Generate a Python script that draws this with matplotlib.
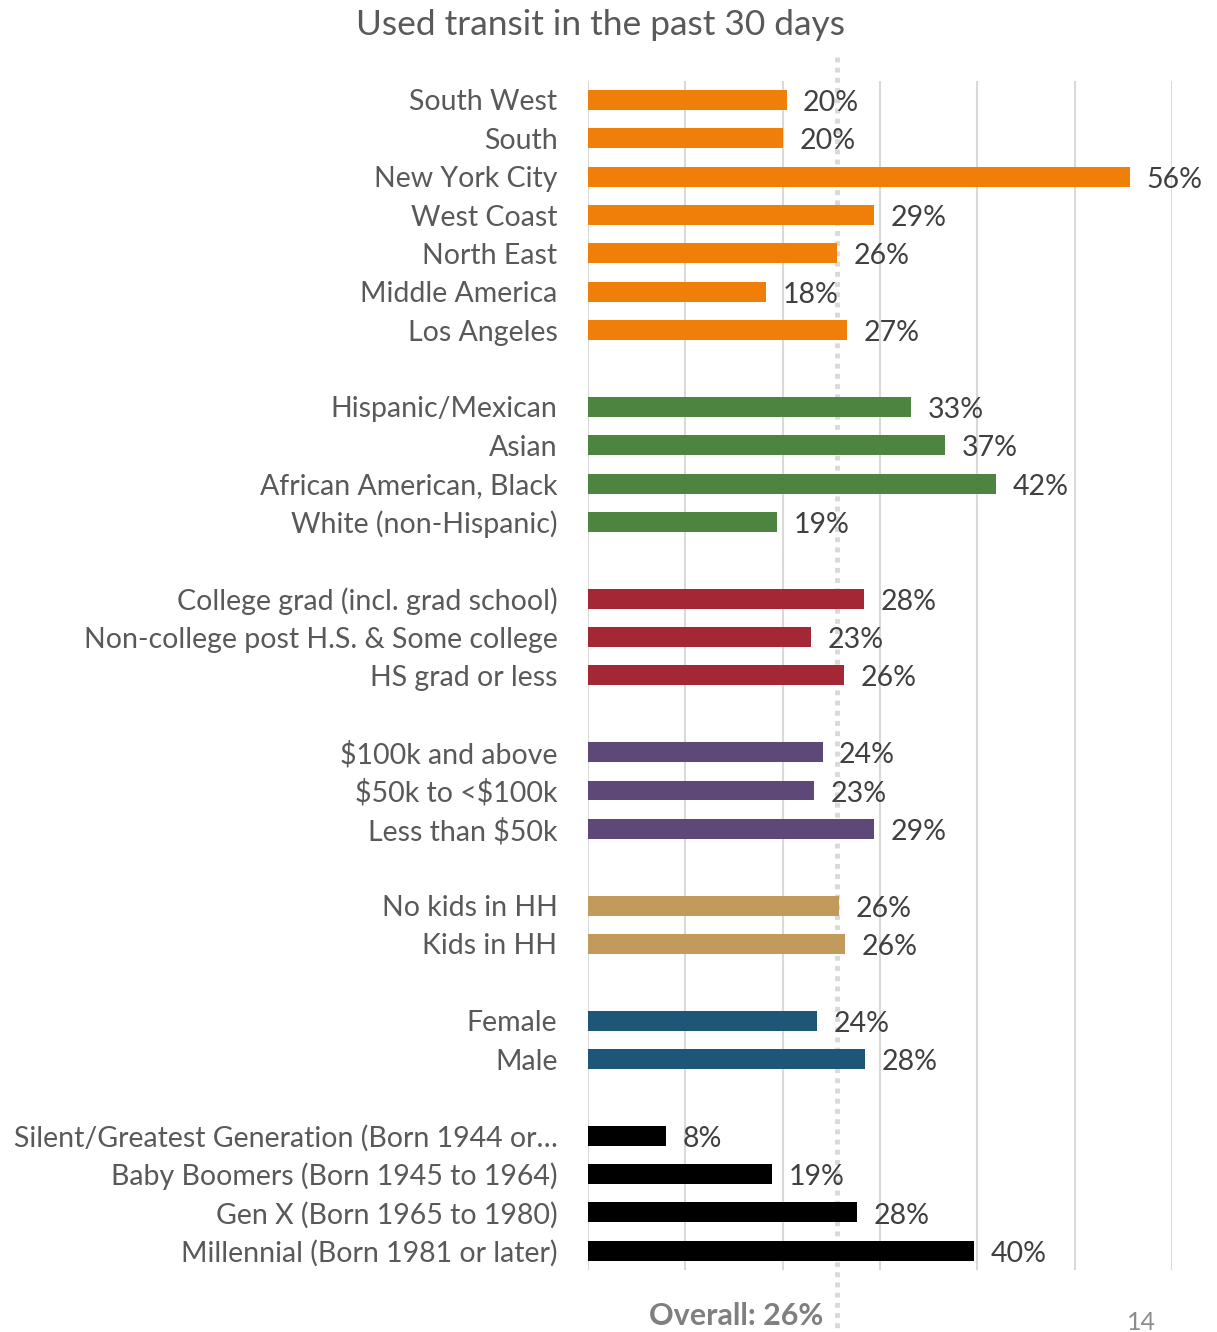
import numpy as np
import matplotlib
matplotlib.use('Agg')
import matplotlib.pyplot as plt
import matplotlib.transforms as mtransforms

plt.rcParams['font.family'] = ['Lato', 'DejaVu Sans']
plt.rcParams['text.parse_math'] = False

# one list per group, top to bottom
regions = ['South West', 'South', 'New York City', 'West Coast', 'North East',
           'Middle America', 'Los Angeles']
region_vals = [20.4, 20.0, 55.7, 29.4, 25.6, 18.3, 26.6]

ethnicity = ['Hispanic/Mexican', 'Asian', 'African American, Black', 'White (non-Hispanic)']
ethnicity_vals = [33.2, 36.7, 41.9, 19.4]

education = ['College grad (incl. grad school)', 'Non-college post H.S. & Some college',
             'HS grad or less']
education_vals = [28.4, 22.9, 26.3]

income = ['$100k and above', '$50k to <$100k', 'Less than $50k']
income_vals = [24.1, 23.2, 29.4]

kids = ['No kids in HH', 'Kids in HH']
kids_vals = [25.8, 26.4]

gender = ['Female', 'Male']
gender_vals = [23.5, 28.5]

generation = ['Silent/Greatest Generation (Born 1944 or…', 'Baby Boomers (Born 1945 to 1964)',
              'Gen X (Born 1965 to 1980)', 'Millennial (Born 1981 or later)']
generation_vals = [8.0, 18.9, 27.6, 39.7]

overall = 25.6

groups = [
    (regions, region_vals, '#F07F09'),
    (ethnicity, ethnicity_vals, '#4D8540'),
    (education, education_vals, '#A32735'),
    (income, income_vals, '#5E4878'),
    (kids, kids_vals, '#C29A5B'),
    (gender, gender_vals, '#1E5677'),
    (generation, generation_vals, '#000000'),
]

text_color = '#595959'

fig = plt.figure(figsize=(12.17, 13.32), dpi=100)
ax = fig.add_axes([588 / 1217, 1 - 1270 / 1332, (1172 - 588) / 1217, (1270 - 80.8) / 1332])

labels, vals, colors, pos = [], [], [], []
row = 0
for names, values, c in groups:
    for n, v in zip(names, values):
        labels.append(n)
        vals.append(v)
        colors.append(c)
        pos.append(row)
        row += 1
    row += 1  # blank row between groups
n_rows = row - 1

bars = ax.barh(pos, vals, height=0.52, color=colors, zorder=3)
for b, v in zip(bars, vals):
    ax.text(b.get_width() + 1.7, b.get_y() + b.get_height() / 2 + 0.08, '{:.0f}%'.format(v),
            va='center', ha='left', fontsize=20.5, color='#404040', zorder=4)

ax.set_yticks(pos)
ax.set_yticklabels(labels, fontsize=20.5, color=text_color)
ax.tick_params(axis='y', length=0, pad=22)
ax.set_ylim(n_rows - 0.5, -0.5)
ax.set_xlim(0, 60)
ax.set_xticks(np.arange(0, 61, 10))
ax.tick_params(axis='x', length=0, labelbottom=False)
ax.grid(axis='x', color='#D9D9D9', linewidth=1.5, zorder=0)
for s in ax.spines.values():
    s.set_visible(False)

# overall reference line runs past the plot area
trans = mtransforms.blended_transform_factory(ax.transData, ax.transAxes)
ax.plot([overall, overall], [1.02, -0.06], transform=trans, clip_on=False,
        color='#D9D9D9', linewidth=3.5, linestyle=(0, (1, 1.1)), zorder=2)

fig.text(601 / 1217, 1 - 25 / 1332, 'Used transit in the past 30 days', ha='center', va='center',
         fontsize=25.5, color=text_color)
fig.text(736 / 1217, 1 - 1316 / 1332, 'Overall: 26%', ha='center', va='center',
         fontsize=22, fontweight='bold', color='#7F7F7F')
fig.text(1141 / 1217, 1 - 1322 / 1332, '14', ha='center', va='center',
         fontsize=18, color='#8C8C8C')

fig.savefig('out.png', dpi=100)
